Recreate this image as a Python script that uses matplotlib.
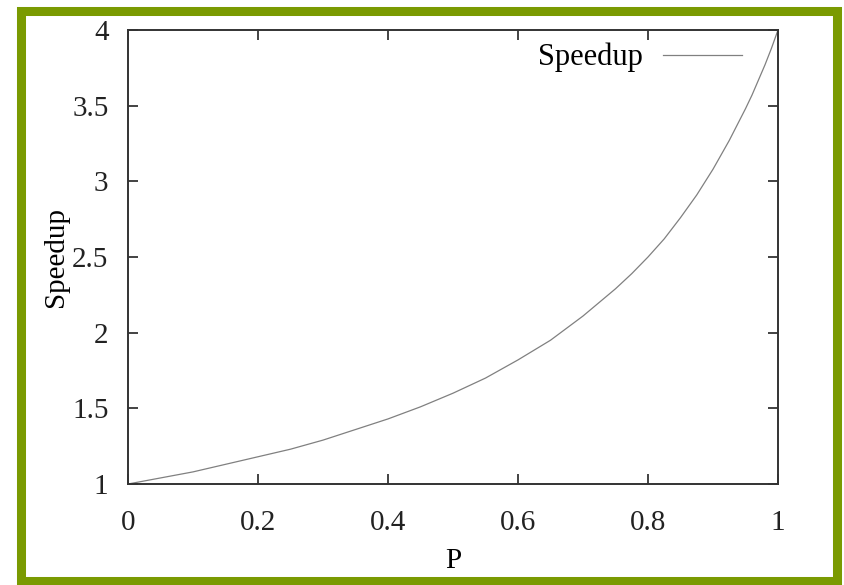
import matplotlib
matplotlib.use("Agg")
import matplotlib.pyplot as plt
from matplotlib.patches import Rectangle

# values
P = [0.0, 0.05, 0.1, 0.15, 0.2, 0.25, 0.3, 0.35, 0.4, 0.45, 0.5, 0.55, 0.6,
     0.65, 0.7, 0.75, 0.775, 0.8, 0.825, 0.85, 0.875, 0.9, 0.925, 0.95,
     0.96, 0.97, 0.98, 0.99, 1.0]
SPEEDUP = [1.0, 1.04, 1.08, 1.13, 1.18, 1.23, 1.29, 1.36, 1.43, 1.51, 1.6, 1.70, 1.82,
           1.95, 2.11, 2.29, 2.39, 2.5, 2.62, 2.76, 2.91, 3.08, 3.27, 3.48,
           3.57, 3.67, 3.77, 3.88, 4.0]
XTICKS = [0, 0.2, 0.4, 0.6, 0.8, 1]
XTICKLABELS = ["0", "0.2", "0.4", "0.6", "0.8", "1"]
YTICKS = [1, 1.5, 2, 2.5, 3, 3.5, 4]
YTICKLABELS = ["1", "1.5", "2", "2.5", "3", "3.5", "4"]

plt.rcParams["font.family"] = ["Liberation Serif", "DejaVu Serif"]

W, H = 844, 585
fig = plt.figure(figsize=(W / 100, H / 100), dpi=100)

# green frame around the whole picture
fig.patches.append(Rectangle((21 / W, 1 - 581 / H), 816 / W, 570 / H,
                             transform=fig.transFigure, fill=False,
                             edgecolor="#7a9a01", linewidth=6.5))

ax = fig.add_axes([128 / W, 1 - 484 / H, 650 / W, 454 / H])
ax.plot(P, SPEEDUP, color="#808080", lw=0.9, label="Speedup")
ax.set_xlim(0, 1)
ax.set_ylim(1, 4)
ax.set_xticks(XTICKS)
ax.set_xticklabels(XTICKLABELS)
ax.set_yticks(YTICKS)
ax.set_yticklabels(YTICKLABELS)
ax.tick_params(direction="in", top=True, right=True, length=7, width=1.2,
               labelsize=21, colors="#222222")
ax.tick_params(axis="x", pad=19)
ax.tick_params(axis="y", pad=14)
for s in ax.spines.values():
    s.set_linewidth(1.4)
    s.set_color("#333333")

ax.set_xlabel("P", fontsize=21, labelpad=8)
ax.set_ylabel("Speedup", fontsize=21, labelpad=2)

leg = ax.legend(loc="upper right", bbox_to_anchor=(0.945, 0.972), frameon=False,
                fontsize=22, markerfirst=False, handlelength=2.6,
                borderaxespad=0, borderpad=0, handletextpad=0.65)

fig.savefig("out.png", dpi=100)
